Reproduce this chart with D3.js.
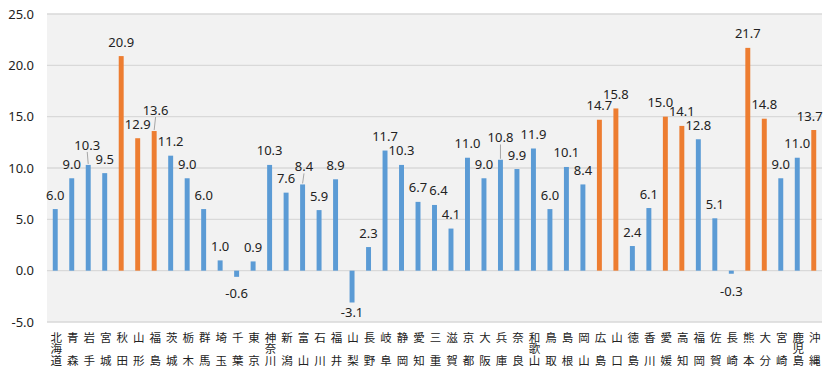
<!DOCTYPE html>
<html>
<head>
<meta charset="utf-8">
<script src="https://cdn.jsdelivr.net/npm/d3@7"></script>
<style>
  body { margin: 0; background: #fff; }
  text { font-family: "Noto Sans", "Noto Sans CJK JP", sans-serif; fill: #222; }
  .cjk { font-family: "Noto Sans CJK JP", sans-serif; }
</style>
</head>
<body>
<div id="chart"></div>
<script>
// data
var prefectures = ["北海道","青森","岩手","宮城","秋田","山形","福島","茨城","栃木","群馬",
  "埼玉","千葉","東京","神奈川","新潟","富山","石川","福井","山梨","長野",
  "岐阜","静岡","愛知","三重","滋賀","京都","大阪","兵庫","奈良","和歌山",
  "鳥取","島根","岡山","広島","山口","徳島","香川","愛媛","高知","福岡",
  "佐賀","長崎","熊本","大分","宮崎","鹿児島","沖縄"];

var values = [6.0, 9.0, 10.3, 9.5, 20.9, 12.9, 13.6, 11.2, 9.0, 6.0,
  1.0, -0.6, 0.9, 10.3, 7.6, 8.4, 5.9, 8.9, -3.1, 2.3,
  11.7, 10.3, 6.7, 6.4, 4.1, 11.0, 9.0, 10.8, 9.9, 11.9,
  6.0, 10.1, 8.4, 14.7, 15.8, 2.4, 6.1, 15.0, 14.1, 12.8,
  5.1, -0.3, 21.7, 14.8, 9.0, 11.0, 13.7];

// prefectures drawn in orange
var highlighted = ["秋田","山形","福島","広島","山口","愛媛","高知","熊本","大分","沖縄"];

var yTicks = [-5, 0, 5, 10, 15, 20, 25];

// label nudges (px) where labels were moved off the default spot
var nudge = {
  "岩手": [-1, -5.5], "福島": [1.4, -6.5], "富山": [1.4, -3.5], "兵庫": [0, -7.8],
  "三重": [4, 0], "愛媛": [-5, 0], "沖縄": [-4, 0], "千葉": [0, 6.5], "長崎": [0, 7]
};
var leader = ["岩手", "福島", "富山", "兵庫"];

var svgWidth = 834, svgHeight = 375;
var margin = { top: 14, right: 12, bottom: 53, left: 47 };
var width = svgWidth - margin.left - margin.right;
var height = svgHeight - margin.top - margin.bottom;

var fmt = v => v.toFixed(1);

var svg = d3.select("#chart").append("svg")
  .attr("width", svgWidth)
  .attr("height", svgHeight);

var g = svg.append("g")
  .attr("transform", `translate(${margin.left},${margin.top})`);

var x = d3.scaleBand().domain(prefectures).range([0, width]).paddingInner(0.7).paddingOuter(0.35);
var y = d3.scaleLinear().domain([-5, 25]).range([height, 0]);

// plot area background
g.append("rect")
  .attr("width", width)
  .attr("height", height)
  .attr("fill", "#f2f2f2");

// gridlines
g.selectAll(".grid").data(yTicks).enter().append("line")
  .attr("x1", 0).attr("x2", width)
  .attr("y1", d => y(d)).attr("y2", d => y(d))
  .attr("stroke", "#d9d9d9").attr("stroke-width", 1.3);

// y axis labels
var yAxis = d3.axisLeft(y).tickValues(yTicks).tickFormat(fmt).tickSize(0).tickPadding(13);
g.append("g").call(yAxis)
  .call(s => s.select(".domain").remove())
  .selectAll("text").attr("font-size", 13).style("fill", "#222");

var data = prefectures.map((p, i) => ({ name: p, value: values[i] }));

// bars
g.selectAll(".bar").data(data).enter().append("rect")
  .attr("x", d => x(d.name))
  .attr("width", x.bandwidth())
  .attr("y", d => y(Math.max(0, d.value)))
  .attr("height", d => Math.abs(y(d.value) - y(0)))
  .attr("fill", d => highlighted.includes(d.name) ? "#ed7d31" : "#5b9bd5");

// data labels
function labelPos(d) {
  var n = nudge[d.name] || [0, 0];
  var cx = x(d.name) + x.bandwidth() / 2 + n[0];
  var cy = d.value >= 0 ? y(d.value) - 14.5 + n[1] : y(d.value) + 10 + n[1];
  return [cx, cy];
}

g.selectAll(".leader").data(data.filter(d => leader.includes(d.name))).enter().append("line")
  .attr("x1", d => x(d.name) + x.bandwidth() / 2)
  .attr("y1", d => y(d.value) - 1)
  .attr("x2", d => labelPos(d)[0])
  .attr("y2", d => labelPos(d)[1] + 7)
  .attr("stroke", "#a6a6a6").attr("stroke-width", 1);

g.selectAll(".lbl").data(data).enter().append("text")
  .attr("x", d => labelPos(d)[0])
  .attr("y", d => labelPos(d)[1])
  .attr("text-anchor", "middle")
  .attr("dominant-baseline", "central")
  .attr("font-size", 13)
  .text(d => fmt(d.value));

// x axis labels, one text per prefecture, characters stacked as tspans
var rows = [336.5, 348.3, 360];
var xl = svg.append("g");
data.forEach(d => {
  var chars = Array.from(d.name);
  var idx = chars.length === 3 ? [0, 1, 2] : [0, 2];
  var cx = margin.left + x(d.name) + x.bandwidth() / 2 + 1;
  var t = xl.append("text")
    .attr("class", "cjk")
    .attr("text-anchor", "middle")
    .attr("dominant-baseline", "central")
    .attr("font-size", 11.5);
  chars.forEach((c, k) => {
    t.append("tspan")
      .attr("x", cx)
      .attr("y", rows[idx[k]])
      .text(c);
  });
});
</script>
</body>
</html>
